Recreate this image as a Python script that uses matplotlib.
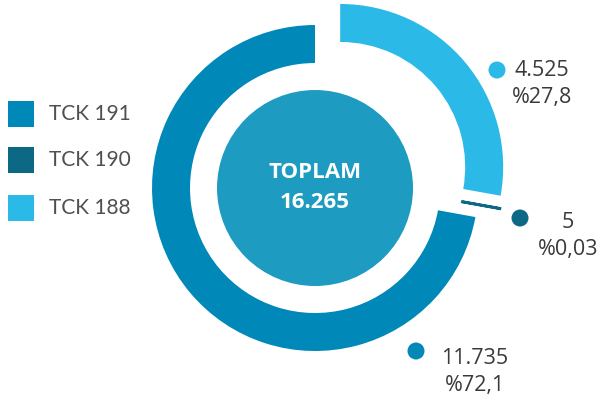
import matplotlib.pyplot as plt
import matplotlib.patches as mpatches

# data
labels = ['TCK 191', 'TCK 190', 'TCK 188']
values = [11735, 5, 4525]
value_text = ['11.735', '5', '4.525']
pct_text = ['%72,1', '%0,03', '%27,8']
total_label = 'TOPLAM'
total_text = '16.265'
colors = ['#0088b8', '#0c6885', '#2bb9e8']
center_color = '#1d9bc1'

W, H = 604, 404
fig = plt.figure(figsize=(6.04, 4.04), dpi=100)
ax = fig.add_axes([0, 0, 1, 1])

# donut (pixel-like data units, y measured from the bottom)
cx, cy = 327.6, H - 177.5
R = 163
ring = 38
explode = [16.4, 12, 16.4]
wedges, _ = ax.pie(values, colors=colors, startangle=90, counterclock=True,
                   radius=R, center=(cx, cy), explode=explode,
                   wedgeprops=dict(width=ring, linewidth=0))
# tiny slice gets an outline so it stays visible
wedges[1].set_edgecolor(colors[1])
wedges[1].set_linewidth(2)

# inner disc with total
ccx, ccy = wedges[0].center
ax.add_patch(mpatches.Circle((ccx, ccy), 98, color=center_color, lw=0))
ax.text(ccx, H - 173, total_label, color='white', fontsize=16, fontweight='bold',
        family='Open Sans', ha='center', va='center')
ax.text(ccx, H - 203, total_text, color='white', fontsize=16, fontweight='bold',
        family='Open Sans', ha='center', va='center')

# legend
leg_y = [114, 160, 208]
for lab, col, y in zip(labels, colors, leg_y):
    ax.add_patch(mpatches.Rectangle((8, H - y - 13), 26, 26, color=col, lw=0))
    ax.text(49, H - y, lab, color='#505050', fontsize=15, fontweight='normal',
            family='Lato', ha='left', va='center')

# value labels
dot_pos = [(416, 351), (520, 218), (497, 70)]
txt_pos = [(475, 358), (568, 222), (542, 70)]
for i in range(3):
    dx, dy = dot_pos[i]
    ax.add_patch(mpatches.Circle((dx, H - dy), 8.5, color=colors[i], lw=0))
    tx, ty = txt_pos[i]
    ax.text(tx, H - ty, value_text[i], color='#3a3a3a', fontsize=15.5,
            family='Open Sans', ha='center', va='center')
    ax.text(tx, H - ty - 27, pct_text[i], color='#3a3a3a', fontsize=15.5,
            family='Open Sans', ha='center', va='center')

ax.set_xlim(0, W)
ax.set_ylim(0, H)
ax.set_aspect('equal')
ax.axis('off')

fig.savefig('out.png', dpi=100)
